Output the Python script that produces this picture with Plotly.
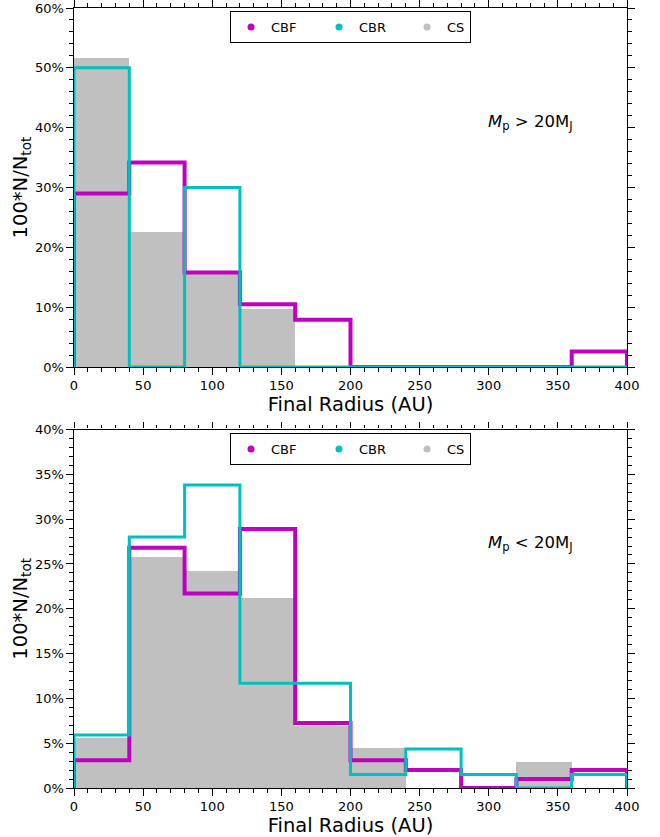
import plotly.graph_objects as go

bin_edges = [0, 40, 80, 120, 160, 200, 240, 280, 320, 360, 400]

# Top panel: M_p > 20 M_J
top_cbf = [29.0, 34.2, 15.8, 10.5, 7.9, 0, 0, 0, 0, 2.6]
top_cbr = [50.0, 0, 30.0, 0, 0, 0, 0, 0, 0, 0]
top_cs = [51.6, 22.6, 15.6, 9.7, 0, 0, 0, 0, 0, 0]

# Bottom panel: M_p < 20 M_J
bot_cbf = [3.1, 26.8, 21.7, 28.9, 7.25, 3.1, 2.0, 0, 1.0, 2.0]
bot_cbr = [5.9, 28.0, 33.8, 11.7, 11.7, 1.5, 4.35, 1.5, 0, 1.5]
bot_cs = [5.6, 25.8, 24.3, 21.3, 7.0, 4.5, 0, 0, 3.0, 0]

labels = ["CBF", "CBR", "CS"]
colors = {"CBF": "#BF00BF", "CBR": "#00BFBF", "CS": "#C0C0C0"}
x_ticks = [0, 50, 100, 150, 200, 250, 300, 350, 400]
top_yticks = [0, 10, 20, 30, 40, 50, 60]
bot_yticks = [0, 5, 10, 15, 20, 25, 30, 35, 40]
annot_top = "<i>M</i><sub>p</sub> > 20M<sub>J</sub>"
annot_bot = "<i>M</i><sub>p</sub> < 20M<sub>J</sub>"
x_title = "Final Radius (AU)"
y_title = "100*N/N<sub>tot</sub>"

FONT = "DejaVu Sans"


def step_path(edges, vals):
    xs, ys = [edges[0]], [0]
    for i, v in enumerate(vals):
        xs += [edges[i], edges[i + 1]]
        ys += [v, v]
    xs.append(edges[-1])
    ys.append(0)
    return xs, ys


centers = [(bin_edges[i] + bin_edges[i + 1]) / 2 for i in range(len(bin_edges) - 1)]
widths = [bin_edges[i + 1] - bin_edges[i] for i in range(len(bin_edges) - 1)]

fig = go.Figure()

panels = [
    ("x", "y", top_cs, top_cbf, top_cbr, "legend"),
    ("x2", "y2", bot_cs, bot_cbf, bot_cbr, "legend2"),
]

for xa, ya, cs, cbf, cbr, lg in panels:
    fig.add_trace(go.Bar(x=centers, y=cs, width=widths, marker=dict(color=colors["CS"], line_width=0),
                         xaxis=xa, yaxis=ya, showlegend=False, hoverinfo="skip"))
    sx, sy = step_path(bin_edges, cbf)
    fig.add_trace(go.Scatter(x=sx, y=sy, mode="lines", line=dict(color=colors["CBF"], width=4),
                             xaxis=xa, yaxis=ya, showlegend=False, cliponaxis=False))
    sx, sy = step_path(bin_edges, cbr)
    fig.add_trace(go.Scatter(x=sx, y=sy, mode="lines", line=dict(color=colors["CBR"], width=3),
                             xaxis=xa, yaxis=ya, showlegend=False, cliponaxis=False))
    for name in labels:
        extra = {} if name == labels[-1] else dict(legendwidth=43)
        fig.add_trace(go.Scatter(x=[None], y=[None], mode="markers", name=name,
                                 marker=dict(color=colors[name], size=7),
                                 xaxis=xa, yaxis=ya, legend=lg, showlegend=True, **extra))

axis_common = dict(
    showline=True, linecolor="black", linewidth=1.2, mirror="allticks",
    ticks="outside", ticklen=6.5, tickwidth=1.4, tickcolor="black",
    tickfont=dict(family=FONT, size=13, color="black"),
    showgrid=False, zeroline=False, automargin=False,
)
xminor = dict(ticks="outside", ticklen=3.5, tickwidth=1.1, tickcolor="black", dtick=10, tick0=0, showgrid=False)


def yminor(d):
    return dict(ticks="outside", ticklen=3.5, tickwidth=1.1, tickcolor="black", dtick=d, tick0=0, showgrid=False)


def pct(vals):
    return [f"{v}%" for v in vals]


xaxis_cfg = dict(axis_common, range=[0, 400], tickvals=x_ticks, minor=xminor,
                 title=dict(text=x_title, font=dict(family=FONT, size=19.5, color="black"), standoff=0))

legend_common = dict(orientation="h", x=0.5, xanchor="center", yanchor="top",
                     bordercolor="black", borderwidth=1, bgcolor="white",
                     font=dict(family=FONT, size=13, color="black"))

fig.update_layout(
    width=660, height=837,
    margin=dict(l=74, r=33, t=8, b=49, autoexpand=False),
    paper_bgcolor="white", plot_bgcolor="white",
    bargap=0, barmode="overlay",
    font=dict(family=FONT, color="black"),
    xaxis=dict(xaxis_cfg, domain=[0, 1], anchor="y"),
    yaxis=dict(axis_common, domain=[0.5397, 1.0], anchor="x", range=[0, 60], tickvals=top_yticks,
               ticktext=pct(top_yticks), minor=yminor(2),
               title=dict(text=y_title, font=dict(family=FONT, size=19.5, color="black"), standoff=2)),
    xaxis2=dict(xaxis_cfg, domain=[0, 1], anchor="y2"),
    yaxis2=dict(axis_common, domain=[0.0, 0.4596], anchor="x2", range=[0, 40], tickvals=bot_yticks,
                ticktext=pct(bot_yticks), minor=yminor(1),
                title=dict(text=y_title, font=dict(family=FONT, size=19.5, color="black"), standoff=2)),
    legend=dict(legend_common, y=0.996),
    legend2=dict(legend_common, y=0.455),
    annotations=[
        dict(text=annot_top, x=330, y=40.8, xref="x", yref="y", showarrow=False,
             font=dict(family=FONT, size=16.5, color="black")),
        dict(text=annot_bot, x=330, y=27.3, xref="x2", yref="y2", showarrow=False,
             font=dict(family=FONT, size=16.5, color="black")),
    ],
)

fig.write_html("out.html")
